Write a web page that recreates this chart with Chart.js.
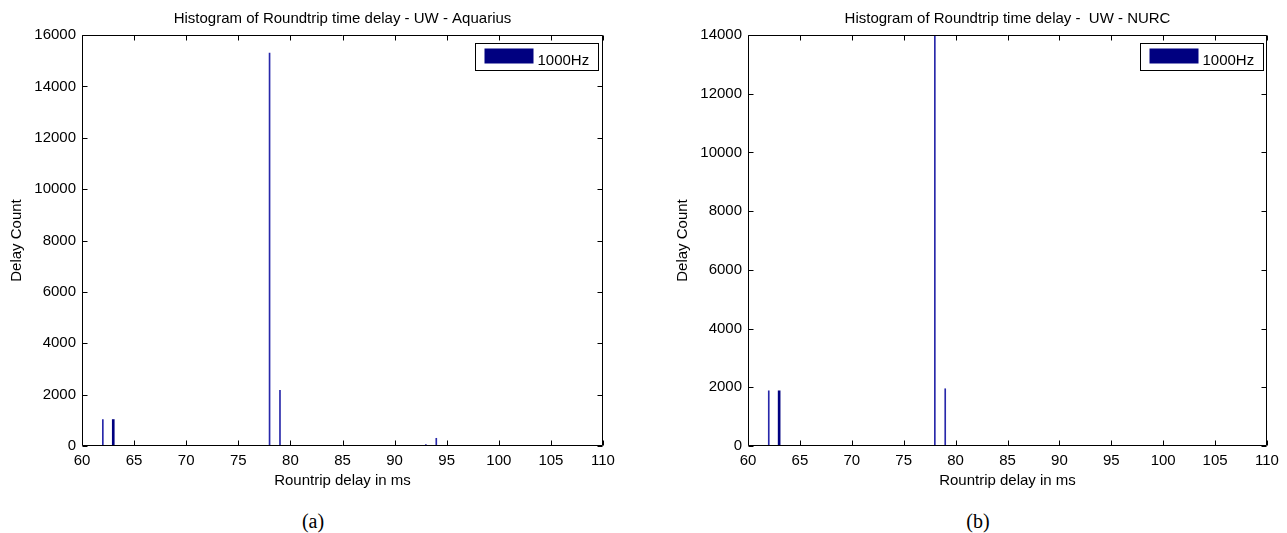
<!DOCTYPE html>
<html>
<head>
<meta charset="utf-8">
<script src="https://cdn.jsdelivr.net/npm/chart.js@4.4.0/dist/chart.umd.min.js"></script>
<style>
  body { margin: 0; background: #fff; width: 1287px; height: 533px; position: relative; overflow: hidden; }
  .box { position: absolute; top: 0; }
  .cap { position: absolute; width: 60px; text-align: center; line-height: 24px; font-family: "Liberation Serif", "Times New Roman", serif; font-size: 20px; color: #000; }
</style>
</head>
<body>
<div class="box" style="left:0"><canvas id="chartA" width="640" height="505"></canvas></div>
<div class="box" style="left:660px"><canvas id="chartB" width="627" height="505"></canvas></div>
<div class="cap" style="left:283px;top:509px">(a)</div>
<div class="cap" style="left:948px;top:509px">(b)</div>
<script>
// histogram bins (ms) and counts
const aquariusDelay = [62, 63, 78, 79, 93, 94];
const aquariusCount = [1030, 1030, 15300, 2170, 60, 300];
const nurcDelay = [62, 63, 78, 79, 94];
const nurcCount = [1880, 1880, 15500, 1950, 20];

const xTicks = [60, 65, 70, 75, 80, 85, 90, 95, 100, 105, 110];
const seriesLabel = '1000Hz';
const wideBins = [63]; // these show up as thicker bars in the plot

const FONT = '"Liberation Sans", Arial, sans-serif';
const FS = 15;
const NAVY = 'rgb(0,0,128)';

// box, inward ticks on all four sides, title and legend like matlab
const matlabFrame = {
  id: 'matlabFrame',
  afterDraw(chart, args, opts) {
    const { ctx, chartArea: a, scales: { x, y } } = chart;
    const L = Math.round(a.left) + 0.5, R = Math.round(a.right) - 0.5;
    const T = Math.round(a.top) + 0.5, B = Math.round(a.bottom) - 0.5;
    ctx.save();
    ctx.strokeStyle = '#000';
    ctx.lineWidth = 1;
    ctx.beginPath();
    ctx.rect(L, T, R - L, B - T);
    x.ticks.forEach(t => {
      const px = Math.round(x.getPixelForValue(t.value)) + 0.5;
      ctx.moveTo(px, B); ctx.lineTo(px, B - 5);
      ctx.moveTo(px, T); ctx.lineTo(px, T + 5);
    });
    y.ticks.forEach(t => {
      const py = Math.round(y.getPixelForValue(t.value)) + 0.5;
      ctx.moveTo(L, py); ctx.lineTo(L + 5, py);
      ctx.moveTo(R, py); ctx.lineTo(R - 5, py);
    });
    ctx.stroke();

    // title
    ctx.fillStyle = '#000';
    ctx.font = FS + 'px ' + FONT;
    ctx.textAlign = 'center';
    ctx.textBaseline = 'middle';
    ctx.fillText(opts.title, (a.left + a.right) / 2, 19);

    // legend box
    const lw = 123, lh = 27;
    const lx = Math.round(a.right) - opts.legendInset - lw + 0.5;
    const ly = Math.round(a.top) + 8 + 0.5;
    ctx.fillStyle = '#fff';
    ctx.fillRect(lx, ly, lw, lh);
    ctx.strokeRect(lx, ly, lw, lh);
    ctx.fillStyle = NAVY;
    ctx.fillRect(lx + 9, ly + 5, 49, 15);
    ctx.fillStyle = '#000';
    ctx.textAlign = 'left';
    ctx.fillText(chart.data.datasets[0].label, lx + 62, ly + 17);
    ctx.restore();
  }
};

function makeChart(id, delays, counts, yMax, opts) {
  const thin = [], wide = [];
  delays.forEach((d, i) => (wideBins.includes(d) ? wide : thin).push({ x: d, y: counts[i] }));
  return new Chart(document.getElementById(id).getContext('2d'), {
    type: 'bar',
    data: {
      datasets: [
        { label: seriesLabel, data: thin, backgroundColor: 'rgb(40,40,170)', barThickness: 1, grouped: false },
        { label: seriesLabel, data: wide, backgroundColor: NAVY, barThickness: 2, grouped: false },
      ],
    },
    options: {
      responsive: false,
      animation: false,
      layout: { padding: { top: 35, right: opts.padRight, bottom: 11, left: 0 } },
      plugins: {
        legend: { display: false },
        tooltip: { enabled: false },
        matlabFrame: opts,
      },
      scales: {
        x: {
          type: 'linear',
          offset: false,
          min: 60,
          max: 110,
          afterBuildTicks: s => { s.ticks = xTicks.map(v => ({ value: v })); },
          afterFit: s => { s.height = 48; },
          grid: { display: false, drawTicks: false, offset: false },
          border: { display: false },
          ticks: { padding: 6, color: '#000', font: { family: FONT, size: FS }, maxRotation: 0, autoSkip: false, callback: v => String(v) },
          title: { display: true, text: 'Rountrip delay in ms', color: '#000', font: { family: FONT, size: FS }, padding: { top: 0, bottom: 4 } },
        },
        y: {
          min: 0,
          max: yMax,
          afterFit: s => { s.width = opts.yWidth; },
          grid: { display: false, drawTicks: false },
          border: { display: false },
          ticks: { stepSize: 2000, padding: 6, color: '#000', font: { family: FONT, size: FS }, callback: v => String(v) },
          title: { display: true, text: 'Delay Count', color: '#000', font: { family: FONT, size: FS }, padding: { top: opts.yTitlePad, bottom: 0 } },
        },
      },
    },
    plugins: [matlabFrame],
  });
}

makeChart('chartA', aquariusDelay, aquariusCount, 16000, {
  title: 'Histogram of Roundtrip time delay - UW - Aquarius',
  padRight: 37, yWidth: 82, yTitlePad: 8, legendInset: 5,
});
makeChart('chartB', nurcDelay, nurcCount, 14000, {
  title: 'Histogram of Roundtrip time delay -  UW - NURC',
  padRight: 20, yWidth: 88, yTitlePad: 14, legendInset: 4,
});
</script>
</body>
</html>
